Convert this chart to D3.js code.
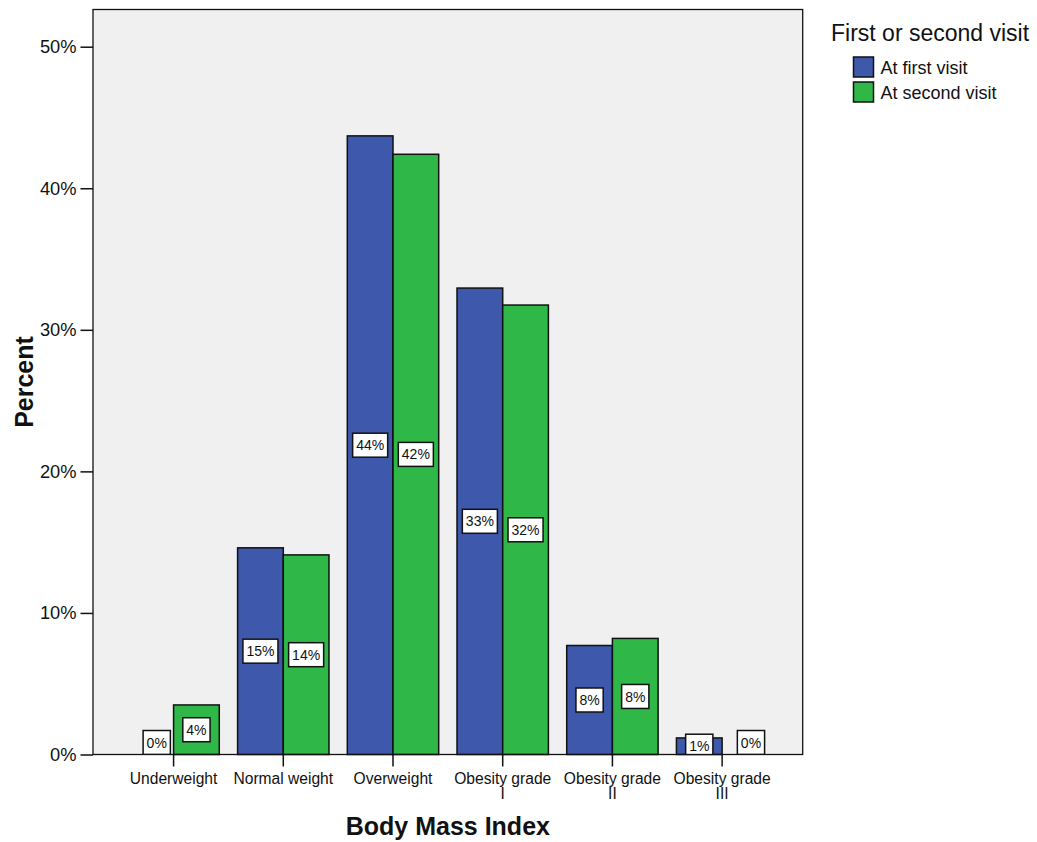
<!DOCTYPE html>
<html>
<head>
<meta charset="utf-8">
<script src="https://cdn.jsdelivr.net/npm/d3@7/dist/d3.min.js"></script>
<style>
  html, body { margin: 0; padding: 0; background: #fff; }
  svg { display: block; font-family: "Liberation Sans", Arial, sans-serif; }
</style>
</head>
<body>
<svg id="chart" width="1037" height="842"></svg>
<script>
// Body Mass Index categories and percent of patients per visit
const categories = ["Underweight", "Normal weight", "Overweight", "Obesity grade I", "Obesity grade II", "Obesity grade III"];
const seriesNames = ["At first visit", "At second visit"];
const firstVisit = [0, 14.6, 43.7, 32.95, 7.7, 1.17];
const secondVisit = [3.5, 14.1, 42.4, 31.75, 8.2, 0];
const yTicks = [0, 10, 20, 30, 40, 50];
const colors = ["#3e58ab", "#2fb848"];

const svg = d3.select("#chart");
const margin = { left: 93, top: 9.5, right: 802.7, bottom: 754.5 };

const x = d3.scaleBand()
  .domain(categories)
  .range([margin.left, margin.right])
  .paddingInner(0.167)
  .paddingOuter(0.318);

const xs = d3.scaleBand()
  .domain(seriesNames)
  .range([0, x.bandwidth()]);

const y = d3.scaleLinear()
  .domain([0, 50])
  .range([margin.bottom, 46.7]);

const color = d3.scaleOrdinal().domain(seriesNames).range(colors);

const rows = [];
categories.forEach((c, i) => {
  rows.push({ cat: c, series: seriesNames[0], value: firstVisit[i] });
  rows.push({ cat: c, series: seriesNames[1], value: secondVisit[i] });
});

// plot background
svg.append("rect")
  .attr("x", margin.left).attr("y", margin.top)
  .attr("width", margin.right - margin.left)
  .attr("height", margin.bottom - margin.top)
  .attr("fill", "#f0f0f0");

svg.append("clipPath").attr("id", "plotClip")
  .append("rect")
  .attr("x", margin.left).attr("y", margin.top)
  .attr("width", margin.right - margin.left)
  .attr("height", margin.bottom - margin.top);

// bars
svg.append("g")
  .selectAll("rect")
  .data(rows)
  .join("rect")
  .attr("x", d => x(d.cat) + xs(d.series))
  .attr("y", d => y(d.value))
  .attr("width", xs.bandwidth())
  .attr("height", d => y(0) - y(d.value))
  .attr("fill", d => color(d.series))
  .attr("stroke", d => d.value === 0 ? "#888" : "#111")
  .attr("stroke-width", 1.5);

// value labels in white boxes
const boxH = 24, zeroShift = 6;
const labels = svg.append("g")
  .attr("clip-path", "url(#plotClip)")
  .selectAll("g")
  .data(rows)
  .join("g")
  .attr("transform", d => {
    const cx = x(d.cat) + xs(d.series) + xs.bandwidth() / 2 + (d.value === 0 ? zeroShift : 0);
    const cy = d.value === 0 ? y(0) - boxH / 2 : (y(0) + y(d.value)) / 2;
    return `translate(${cx},${cy})`;
  });

labels.each(function(d) {
  const g = d3.select(this);
  const rect = g.append("rect").attr("fill", "#fff").attr("stroke", "#111").attr("stroke-width", 1.5);
  const t = g.append("text")
    .attr("text-anchor", "middle")
    .attr("dy", "0.36em")
    .attr("font-size", 14)
    .attr("fill", "#111")
    .text(Math.round(d.value) + "%");
  const w = t.node().getComputedTextLength() + 7;
  rect.attr("x", -w / 2).attr("y", -boxH / 2).attr("width", w).attr("height", boxH);
});

// frame
svg.append("rect")
  .attr("x", margin.left).attr("y", margin.top)
  .attr("width", margin.right - margin.left)
  .attr("height", margin.bottom - margin.top)
  .attr("fill", "none")
  .attr("stroke", "#111")
  .attr("stroke-width", 1.3);

// y axis
const yAxis = svg.append("g")
  .attr("transform", `translate(${margin.left},0)`)
  .call(d3.axisLeft(y).tickValues(yTicks).tickSize(12.5).tickPadding(4).tickFormat(d => d + "%"));
yAxis.select(".domain").remove();
yAxis.selectAll(".tick line").attr("stroke", "#111").attr("stroke-width", 1.5);
yAxis.selectAll(".tick text").attr("font-size", 18.3).attr("fill", "#111")
  .attr("font-family", "Liberation Sans, Arial, sans-serif");

// x axis
const xAxis = svg.append("g")
  .attr("transform", `translate(0,${margin.bottom})`)
  .call(d3.axisBottom(x).tickSize(12).tickPadding(6));
xAxis.select(".domain").remove();
xAxis.selectAll(".tick line").attr("stroke", "#111").attr("stroke-width", 1.5);
xAxis.selectAll(".tick text")
  .attr("font-size", 15.6).attr("fill", "#111")
  .attr("font-family", "Liberation Sans, Arial, sans-serif")
  .call(wrap, 103);

function wrap(texts, width) {
  texts.each(function() {
    const text = d3.select(this);
    const words = text.text().split(/\s+/);
    const yPos = text.attr("y");
    text.text(null);
    let line = [];
    let lineNo = 0;
    let tspan = text.append("tspan").attr("x", 0).attr("y", yPos).attr("dy", "0.71em");
    words.forEach(word => {
      line.push(word);
      tspan.text(line.join(" "));
      if (tspan.node().getComputedTextLength() > width && line.length > 1) {
        line.pop();
        tspan.text(line.join(" "));
        line = [word];
        lineNo++;
        tspan = text.append("tspan").attr("x", 0).attr("y", yPos)
          .attr("dy", (0.71 + lineNo * 1.0) + "em").text(word);
      }
    });
  });
}

// axis titles
svg.append("text")
  .attr("x", (margin.left + margin.right) / 2)
  .attr("y", 835)
  .attr("text-anchor", "middle")
  .attr("font-size", 25)
  .attr("font-weight", "bold")
  .attr("fill", "#111")
  .text("Body Mass Index");

svg.append("text")
  .attr("transform", `translate(33,${(margin.top + margin.bottom) / 2}) rotate(-90)`)
  .attr("text-anchor", "middle")
  .attr("font-size", 25)
  .attr("font-weight", "bold")
  .attr("fill", "#111")
  .text("Percent");

// legend
const legend = svg.append("g");
legend.append("text")
  .attr("x", 831).attr("y", 40.5)
  .attr("font-size", 23)
  .attr("fill", "#111")
  .text("First or second visit");

const items = legend.selectAll("g.item")
  .data(seriesNames)
  .join("g")
  .attr("class", "item")
  .attr("transform", (d, i) => `translate(853.5,${57 + i * 25})`);
items.append("rect")
  .attr("width", 20).attr("height", 20)
  .attr("fill", d => color(d))
  .attr("stroke", "#111").attr("stroke-width", 1.5);
items.append("text")
  .attr("x", 27).attr("y", 16.5)
  .attr("font-size", 18)
  .attr("fill", "#111")
  .text(d => d);
</script>
</body>
</html>
